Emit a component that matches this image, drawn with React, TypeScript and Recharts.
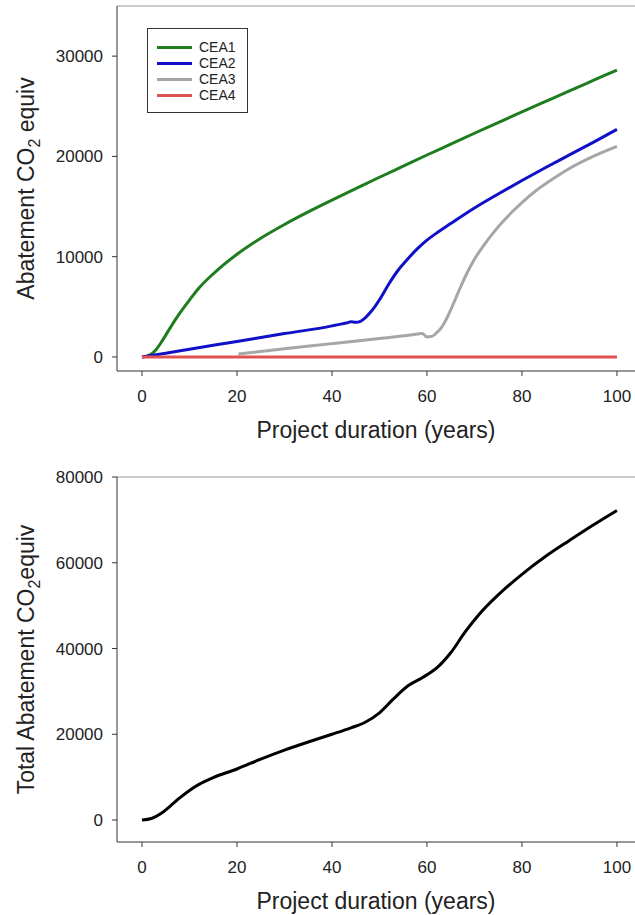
import { LineChart, Line, XAxis, YAxis, ReferenceLine, Legend } from 'recharts'

// [year, abatement] pairs
const cea1: [number, number][] = [
  [0, 0], [1, 80], [2, 300], [3, 750], [4, 1420], [5, 2180], [6, 2950], [7, 3700],
  [8, 4400], [10, 5680], [12, 6880], [15, 8290], [20, 10240], [25, 11840], [30, 13215],
  [35, 14465], [40, 15640], [45, 16780], [50, 17920], [55, 19030], [60, 20140],
  [65, 21225], [70, 22310], [75, 23375], [80, 24440], [85, 25490], [90, 26540],
  [95, 27575], [100, 28610],
]
const cea2: [number, number][] = [
  [0, 0], [5, 380], [10, 770], [20, 1550], [30, 2330], [40, 3100], [41, 3200], [43, 3380],
  [44, 3500], [45, 3460], [46, 3560], [47, 3900], [48, 4400], [49, 5000], [50, 5700],
  [52, 7300], [54, 8700], [56, 9800], [58, 10800], [60, 11650], [62, 12350],
  [65, 13300], [70, 14850], [75, 16250], [80, 17600], [85, 18900], [90, 20150],
  [95, 21400], [100, 22700],
]
const cea3: [number, number][] = [
  [20.3, 300], [30, 820], [40, 1330], [50, 1850], [58, 2280], [59, 2350], [60, 2000],
  [61, 2050], [62, 2400], [63, 2900], [64, 3700], [65, 4700], [66, 5800], [67, 6900],
  [68, 7950], [69, 8900], [70, 9750], [72, 11150], [74, 12400], [76, 13500],
  [78, 14500], [80, 15400], [83, 16600], [86, 17600], [90, 18800], [95, 20000],
  [100, 21000],
]
const cea4: [number, number][] = [[0, 0], [25, 0], [50, 0], [75, 0], [100, 0]]

const total: [number, number][] = [
  [0, 0], [2, 350], [4, 1500], [6, 3300], [8, 5200], [10, 6900], [12, 8300],
  [15, 9900], [20, 11900], [25, 14200], [30, 16300], [35, 18200], [40, 20000],
  [44, 21500], [47, 22800], [50, 25000], [53, 28300], [56, 31300], [59, 33200],
  [62, 35400], [65, 39000], [68, 43800], [71, 48000], [75, 52500], [80, 57300],
  [85, 61500], [90, 65200], [95, 68800], [100, 72200],
]

const seriesNames = ['CEA1', 'CEA2', 'CEA3', 'CEA4']
const seriesColors = ['#1e7d1e', '#1010c8', '#a6a6a6', '#e05252']
const xTicks = [0, 20, 40, 60, 80, 100]
const topTicks = [0, 10000, 20000, 30000]
const bottomTicks = [0, 20000, 40000, 60000, 80000]

const toRows = (pts: [number, number][]) => pts.map(([x, y]) => ({ x, y }))
const series = [cea1, cea2, cea3, cea4].map(toRows)

const font = '"Liberation Sans", Arial, sans-serif'
const tick = { fill: '#222', fontSize: 17, fontFamily: font }

function XTitle(props: any) {
  const { viewBox } = props
  return (
    <text x={viewBox.x + viewBox.width / 2} y={viewBox.y + 67} textAnchor="middle"
      fontSize={23} fontFamily={font} fill="#222">
      Project duration (years)
    </text>
  )
}

function YTitle(props: any) {
  const { viewBox, before, after } = props
  const cy = viewBox.y + viewBox.height / 2
  const x = 34
  return (
    <text x={x} y={cy} transform={`rotate(-90, ${x}, ${cy})`} textAnchor="middle"
      fontSize={23} fontFamily={font} fill="#222">
      <tspan>{before}</tspan>
      <tspan dy={6} fontSize={16}>2</tspan>
      <tspan dy={-6}>{after}</tspan>
    </text>
  )
}

function LegendBox() {
  return (
    <div style={{ border: '1px solid #333', width: 99, height: 83, boxSizing: 'content-box',
      background: '#fff', position: 'relative' }}>
      {seriesNames.map((name, i) => (
        <div key={name} style={{ position: 'absolute', left: 9, top: 10 + i * 16,
          height: 16, display: 'flex', alignItems: 'center' }}>
          <div style={{ width: 35, height: 3, background: seriesColors[i] }} />
          <span style={{ marginLeft: 7, fontSize: 14, fontFamily: font, color: '#222', lineHeight: '16px' }}>
            {name}
          </span>
        </div>
      ))}
    </div>
  )
}

export default function App() {
  return (
    <div style={{ position: 'absolute', left: 0, top: 0, width: 635, height: 915, background: '#fff' }}>
      <LineChart width={635} height={452} margin={{ top: 6, right: 0, left: 57, bottom: 21 }}>
        <XAxis type="number" dataKey="x" domain={[-5.26, 103.8]} ticks={xTicks}
          allowDataOverflow height={60} tickSize={5} tickMargin={14} tick={tick}
          axisLine={{ stroke: '#333' }} tickLine={{ stroke: '#333' }} label={<XTitle />} />
        <YAxis type="number" domain={[-1400, 35000]} ticks={topTicks} allowDataOverflow
          width={60} tickSize={5} tickMargin={9} tick={tick}
          axisLine={{ stroke: '#333' }} tickLine={{ stroke: '#333' }}
          label={<YTitle before="Abatement CO" after=" equiv" />} />
        <ReferenceLine y={35000} stroke="#999" />
        {series.map((rows, i) => (
          <Line key={seriesNames[i]} data={rows} dataKey="y" name={seriesNames[i]}
            type="monotone" stroke={seriesColors[i]} strokeWidth={3} dot={false}
            isAnimationActive={false} />
        ))}
        <Legend layout="vertical" align="center" verticalAlign="middle"
          content={() => <LegendBox />}
          wrapperStyle={{ position: 'absolute', left: 147, top: 28, width: 101, height: 85 }} />
      </LineChart>
      <LineChart width={635} height={463} margin={{ top: 25, right: 0, left: 57, bottom: 13 }}>
        <XAxis type="number" dataKey="x" domain={[-5.26, 103.8]} ticks={xTicks}
          allowDataOverflow height={60} tickSize={5} tickMargin={14} tick={tick}
          axisLine={{ stroke: '#333' }} tickLine={{ stroke: '#333' }} label={<XTitle />} />
        <YAxis type="number" domain={[-5131, 80000]} ticks={bottomTicks} allowDataOverflow
          width={60} tickSize={5} tickMargin={9} tick={tick}
          axisLine={{ stroke: '#333' }} tickLine={{ stroke: '#333' }}
          label={<YTitle before="Total Abatement CO" after="equiv" />} />
        <ReferenceLine y={80000} stroke="#999" />
        <Line data={toRows(total)} dataKey="y" name="Total" type="monotone" stroke="#000"
          strokeWidth={3} dot={false} isAnimationActive={false} />
      </LineChart>
    </div>
  )
}
